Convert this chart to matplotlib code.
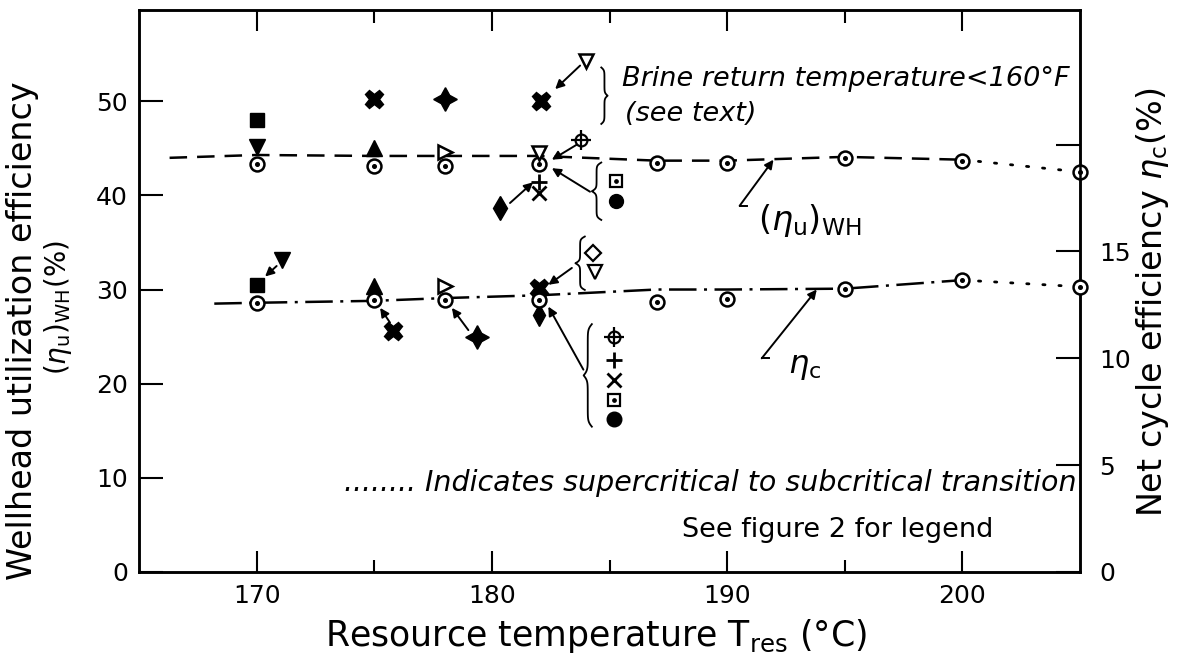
import matplotlib
matplotlib.use("Agg")
import matplotlib.pyplot as plt
import numpy as np

plt.rcParams['font.family'] = 'DejaVu Sans'
plt.rcParams['mathtext.fontset'] = 'dejavusans'

# ---- wellhead utilization efficiency (left axis, %) ----
wh_T = [170, 175, 178, 182, 187, 190, 195, 200, 205]
wh_eff = [43.3, 43.1, 43.1, 43.3, 43.5, 43.4, 44.0, 43.7, 42.5]
wh_line_T = [166.3, 170, 175, 178, 182, 187, 190, 195, 200]
wh_line_eff = [44.0, 44.3, 44.2, 44.2, 44.2, 43.7, 43.7, 44.1, 43.8]
wh_dot_T = [200, 205]
wh_dot_eff = [43.8, 42.5]

# other working fluids, wellhead efficiency
wh_sq_T, wh_sq = [170], [48.0]
wh_vfill_T, wh_vfill = [170], [45.1]
wh_xfill_T, wh_xfill = [175, 182.1], [50.3, 50.0]
wh_up_T, wh_up = [175], [45.0]
wh_star_T, wh_star = [178], [50.2]
wh_right_T, wh_right = [178], [44.6]
wh_vopen_T, wh_vopen = [184.0, 182], [54.3, 44.5]
wh_cross_T, wh_cross = [183.8], [45.9]
wh_plus_T, wh_plus = [182], [41.4]
wh_x_T, wh_x = [182], [40.3]
wh_dia_T, wh_dia = [180.35], [38.7]
wh_key_T = [185.28, 185.28]
wh_key = [41.5, 39.4]

# ---- net cycle efficiency (right axis, %) ----
c_T = [170, 175, 178, 182, 187, 190, 195, 200, 205]
c_eff = [12.60, 12.73, 12.73, 12.73, 12.64, 12.78, 13.26, 13.66, 13.35]
c_line_T = [168.2, 170, 175, 178, 182, 187, 190, 195, 200]
c_line_eff = [12.56, 12.60, 12.69, 12.82, 12.95, 13.22, 13.22, 13.26, 13.66]
c_dot_T = [200, 205]
c_dot_eff = [13.66, 13.35]

c_vfill_T, c_vfill = [171.07], [14.58]
c_sq_T, c_sq = [170], [13.44]
c_up_T, c_up = [175], [13.39]
c_xfill_T, c_xfill = [175.8, 182], [11.28, 13.30]
c_right_T, c_right = [178], [13.39]
c_star_T, c_star = [179.36], [11.01]
c_dia_T, c_dia = [182], [12.03]
c_key1_T = [184.29, 184.39]
c_key1 = [14.93, 14.05]
c_key2_T = [185.17, 185.17, 185.17, 185.17, 185.17]
c_key2 = [11.01, 9.91, 8.99, 8.06, 7.14]

fig = plt.figure(figsize=(11.77, 6.69), dpi=100)
ax = fig.add_axes([0.1181, 0.145, 0.7995, 0.840])
ax2 = ax.twinx()

K = 'black'
LW = 1.8


def circ_dot(a, x, y, ms=10):
    a.plot(x, y, 'o', ms=ms, mfc='white', mec=K, mew=1.8, ls='none', zorder=4, clip_on=False)
    a.plot(x, y, 'o', ms=2.6, color=K, ls='none', zorder=5, clip_on=False)


def sq_dot(a, x, y):
    a.plot(x, y, 's', ms=9, mfc='white', mec=K, mew=1.6, ls='none', zorder=4)
    a.plot(x, y, 'o', ms=2.4, color=K, ls='none', zorder=5)


def crosshair(a, x, y):
    a.plot(x, y, 'o', ms=8.5, mfc='white', mec=K, mew=1.6, ls='none', zorder=4)
    a.plot(x, y, '+', ms=14, mec=K, mew=1.6, ls='none', zorder=5)


def curly(a, x_end, x_tip, y0, y1, lw=1.3):
    s = np.linspace(0, 0.5, 60)
    k = 40.0
    h = 1 / (1 + np.exp(-k * s)) + 1 / (1 + np.exp(-k * (s - 0.5)))
    h = (h - h[0]) / (h[-1] - h[0])
    ss = np.concatenate([s, 1 - s[::-1]])
    hh = np.concatenate([h, h[::-1]])
    a.plot(x_end + (x_tip - x_end) * hh, y0 + (y1 - y0) * ss, color=K, lw=lw)


def arrow(a, tail, tip):
    a.annotate('', xy=tip, xytext=tail,
               arrowprops=dict(arrowstyle='-|>', color=K, lw=1.4,
                               mutation_scale=13, shrinkA=0, shrinkB=0))


# upper curve (left axis)
ax.plot(wh_line_T, wh_line_eff, color=K, lw=LW, dashes=(7, 4))
ax.plot(wh_dot_T, wh_dot_eff, color=K, lw=2.0, dashes=(0.8, 5), dash_capstyle='round', clip_on=False)
circ_dot(ax, wh_T, wh_eff)

ax.plot(wh_sq_T, wh_sq, 's', ms=10, color=K)
ax.plot(wh_vfill_T, wh_vfill, 'v', ms=11, color=K)
ax.plot(wh_xfill_T, wh_xfill, 'X', ms=13, color=K)
ax.plot(wh_up_T, wh_up, '^', ms=11, color=K)
ax.plot(wh_star_T, wh_star, marker=(4, 1, 0), ms=17, color=K, ls='none')
ax.plot(wh_right_T, wh_right, '>', ms=10, mfc='white', mec=K, mew=1.8, ls='none', zorder=4)
ax.plot(wh_vopen_T, wh_vopen, 'v', ms=10, mfc='white', mec=K, mew=1.8, ls='none', zorder=4)
crosshair(ax, wh_cross_T, wh_cross)
ax.plot(wh_plus_T, wh_plus, '+', ms=12, mec=K, mew=2, ls='none')
ax.plot(wh_x_T, wh_x, 'x', ms=10, mec=K, mew=2, ls='none')
ax.plot(wh_dia_T, wh_dia, 'd', ms=12, color=K, ls='none')
sq_dot(ax, wh_key_T[:1], wh_key[:1])
ax.plot(wh_key_T[1:], wh_key[1:], 'o', ms=10, color=K, ls='none')

arrow(ax, (183.75, 53.8), (182.69, 51.3))
arrow(ax, (183.61, 45.4), (182.55, 43.8))
arrow(ax, (180.77, 39.2), (181.75, 41.4))
arrow(ax, (184.17, 40.4), (182.55, 42.9))
curly(ax, 184.65, 184.92, 47.6, 53.6)
curly(ax, 184.65, 184.25, 37.4, 43.5)

ax.text(185.52, 52.4, 'Brine return temperature<160°F', fontsize=19.5, style='italic', va='center')
ax.text(185.66, 48.7, '(see text)', fontsize=19.5, style='italic', va='center')

arrow(ax, (190.53, 38.9), (191.97, 43.8))
ax.plot([190.53, 190.85], [38.9, 38.9], color=K, lw=1.4)
ax.text(191.3, 37.3, r'$(\eta_{\rm u})_{\rm WH}$', fontsize=24, va='center')

ax.text(204.85, 9.5, '........ Indicates supercritical to subcritical transition',
        fontsize=20.5, style='italic', ha='right', va='center')
ax.text(201.3, 4.5, 'See figure 2 for legend', fontsize=19.5, ha='right', va='center')

# lower curve (right axis)
ax2.plot(c_line_T, c_line_eff, color=K, lw=LW, dashes=(11, 3, 1.2, 3))
ax2.plot(c_dot_T, c_dot_eff, color=K, lw=2.0, dashes=(0.8, 5), dash_capstyle='round', clip_on=False)
circ_dot(ax2, c_T, c_eff)

ax2.plot(c_vfill_T, c_vfill, 'v', ms=11, color=K)
ax2.plot(c_sq_T, c_sq, 's', ms=10, color=K)
ax2.plot(c_up_T, c_up, '^', ms=11, color=K)
ax2.plot(c_xfill_T, c_xfill, 'X', ms=13, color=K)
ax2.plot(c_right_T, c_right, '>', ms=10, mfc='white', mec=K, mew=1.8, ls='none', zorder=4)
ax2.plot(c_star_T, c_star, marker=(4, 1, 0), ms=17, color=K, ls='none')
ax2.plot(c_dia_T, c_dia, 'd', ms=11, color=K, ls='none')

ax2.plot(c_key1_T[:1], c_key1[:1], 'D', ms=8, mfc='white', mec=K, mew=1.6, ls='none')
ax2.plot(c_key1_T[1:], c_key1[1:], 'v', ms=10, mfc='white', mec=K, mew=1.6, ls='none')
crosshair(ax2, c_key2_T[:1], c_key2[:1])
ax2.plot(c_key2_T[1:2], c_key2[1:2], '+', ms=12, mec=K, mew=2, ls='none')
ax2.plot(c_key2_T[2:3], c_key2[2:3], 'x', ms=10, mec=K, mew=2, ls='none')
sq_dot(ax2, c_key2_T[3:4], c_key2[3:4])
ax2.plot(c_key2_T[4:], c_key2[4:], 'o', ms=10.5, color=K, ls='none')

arrow(ax2, (170.85, 14.32), (170.36, 13.83))
arrow(ax2, (175.67, 11.67), (175.25, 12.36))
arrow(ax2, (179.0, 11.32), (178.3, 12.36))
arrow(ax2, (183.4, 14.23), (182.4, 13.44))
arrow(ax2, (183.89, 9.47), (182.4, 12.42))
curly(ax2, 183.95, 183.55, 13.2, 15.7)
curly(ax2, 184.25, 183.9, 6.8, 11.6)

arrow(ax2, (191.47, 10.0), (193.81, 13.22))
ax2.plot([191.47, 191.8], [10.0, 10.0], color=K, lw=1.4)
ax2.text(192.6, 9.6, r'$\eta_{\rm c}$', fontsize=23, va='center')

# axes
ax.set_xlim(165, 205)
ax.set_ylim(0, 59.7)
ax2.set_ylim(0, 26.3)

ax.set_xticks([170, 180, 190, 200])
ax.set_xticks([175, 185, 195], minor=True)
ax.set_yticks([0, 10, 20, 30, 40, 50])
ax2.set_yticks([0, 5, 10, 15, 20])
ax2.set_yticklabels(['0', '5', '10', '15', ''])

ax.tick_params(axis='x', which='major', direction='in', length=15, width=1.5,
               top=True, labelsize=18, pad=9)
ax.tick_params(axis='x', which='minor', direction='in', length=9, width=1.5, top=True)
ax.tick_params(axis='y', direction='in', length=17, width=1.5, labelsize=18, pad=8)
ax2.tick_params(axis='y', direction='in', length=17, width=1.5, labelsize=18, pad=14)

for a in (ax, ax2):
    for sp in a.spines.values():
        sp.set_linewidth(1.8)

ax.set_xlabel(r'Resource temperature $\mathrm{T}_{\mathrm{res}}$ (°C)', fontsize=25)
ax.xaxis.set_label_coords(0.486, -0.08)

# two-line left label, first line larger as in the original lettering
ax.text(-0.1233, 0.429, 'Wellhead utilization efficiency', fontsize=24,
        rotation=90, ha='center', va='center', transform=ax.transAxes)
ax.text(-0.0861, 0.4706, r'$(\eta_{\rm u})_{\rm WH}$(%)', fontsize=20,
        rotation=90, ha='center', va='center', transform=ax.transAxes)
ax2.text(1.0765, 0.48, r'Net cycle efficiency $\eta_{\rm c}$(%)', fontsize=24,
         rotation=90, ha='center', va='center', transform=ax2.transAxes)

fig.savefig('out.png', dpi=100)
